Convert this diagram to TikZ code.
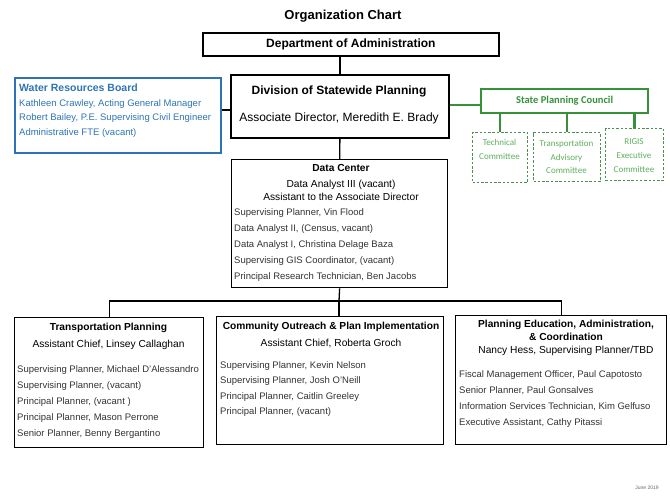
\documentclass[tikz,border=0pt]{standalone}
\usepackage{fontspec}
\setmainfont{Liberation Sans}
\newfontfamily\calfont{Carlito}
\usetikzlibrary{positioning}
\definecolor{wrblue}{HTML}{2E74B5}
\definecolor{spcgreen}{HTML}{35913A}
\definecolor{comgreen}{HTML}{5DAF5D}
\definecolor{dashgreen}{HTML}{4E8E52}
\tikzset{
  unit/.style={
    rectangle,
    draw=black,
    line width=1.3pt,
    anchor=north west,
    inner sep=0pt
  },
  topunit/.style={unit, line width=1.8pt},
  wrbox/.style={unit, draw=wrblue, line width=1.8pt},
  spcbox/.style={unit, draw=spcgreen, line width=2.2pt},
  combox/.style={unit, draw=dashgreen, dash pattern=on 2.5pt off 1.8pt, line width=1pt},
  head/.style={anchor=base, inner sep=0pt, font=\fontsize{10.2}{12}\selectfont},
  bighead/.style={anchor=base, inner sep=0pt, font=\fontsize{12}{14}\selectfont},
  staff/.style={anchor=base west, inner sep=0pt, text=black!80, font=\fontsize{9.5}{11}\selectfont},
  comtext/.style={anchor=base, inner sep=0pt, text=comgreen, font=\calfont\fontsize{9}{11}\selectfont},
  link/.style={draw=black, line width=1.3pt},
  greenlink/.style={draw=spcgreen, line width=2.4pt}
}
\begin{document}
\begin{tikzpicture}[x=1pt, y=-1pt]
\useasboundingbox (0,0) rectangle (670,496);

\node[anchor=base, font=\bfseries\fontsize{13}{15}\selectfont] (title) at (343,19.5) {Organization Chart};

% top of the chart
\node[topunit, minimum width=296pt, minimum height=23pt, font=\bfseries\fontsize{12}{14}\selectfont] (dept) at (202,32) {Department of Administration};

\node[topunit, minimum width=218pt, minimum height=63pt] (div) at (230,74) {};
\node[bighead, font=\bfseries\fontsize{12}{14}\selectfont] (divname) at (339,94) {Division of Statewide Planning};
\node[bighead] (divhead) at (339,121) {Associate Director, Meredith E. Brady};

% water resources board
\node[wrbox, minimum width=206pt, minimum height=75pt] (water) at (14,77) {};
\node[staff, text=wrblue, font=\bfseries\fontsize{10.5}{12}\selectfont] (watername) at (19,91) {Water Resources Board};
\foreach \line [count=\i from 0] in {{Kathleen Crawley, Acting General Manager},{Robert Bailey, P.E. Supervising Civil Engineer},{Administrative FTE (vacant)}}
  \node[staff, text=wrblue] at (19,106+14.5*\i) {\line};

% state planning council
\node[spcbox, minimum width=167pt, minimum height=24pt, text=spcgreen, font=\calfont\bfseries\fontsize{10.5}{12}\selectfont] (spc) at (480,88) {State Planning Council};

\node[combox, minimum width=55pt, minimum height=50pt] (tech) at (472,132) {};
\node[comtext] at (499.5,145) {Technical};
\node[comtext] at (499.5,159) {Committee};

\node[combox, minimum width=67pt, minimum height=49pt] (tac) at (533,132) {};
\node[comtext] at (566.5,146) {Transportation};
\node[comtext] at (566.5,160) {Advisory};
\node[comtext] at (566.5,173) {Committee};

\node[combox, minimum width=58pt, minimum height=52pt] (rigis) at (605,128) {};
\node[comtext] at (634,144) {RIGIS};
\node[comtext] at (634,158) {Executive};
\node[comtext] at (634,172) {Committee};

% data center
\node[unit, minimum width=216pt, minimum height=128pt] (dc) at (231,159) {};
\node[head, font=\bfseries\fontsize{10.2}{12}\selectfont] (dcname) at (341,171.5) {Data Center};
\node[head] at (341,187.5) {Data Analyst III (vacant)};
\node[head] at (341,200.5) {Assistant to the Associate Director};
\foreach \line [count=\i from 0] in {{Supervising Planner, Vin Flood},{Data Analyst II, (Census, vacant)},{Data Analyst I, Christina Delage Baza},{Supervising GIS Coordinator, (vacant)},{Principal Research Technician, Ben Jacobs}}
  \node[staff] at (234,215+16*\i) {\line};

% sections
\node[unit, minimum width=189pt, minimum height=130pt] (trans) at (14,317) {};
\node[head, font=\bfseries\fontsize{10.2}{12}\selectfont] (transname) at (108.5,330.5) {Transportation Planning};
\node[head] at (108.5,347.5) {Assistant Chief, Linsey Callaghan};
\foreach \line [count=\i from 0] in {{Supervising Planner, Michael D'Alessandro},{Supervising Planner, (vacant)},{Principal Planner, (vacant )},{Principal Planner, Mason Perrone},{Senior Planner, Benny Bergantino}}
  \node[staff] at (17,372+16*\i) {\line};

\node[unit, minimum width=227pt, minimum height=128pt] (comm) at (216,316) {};
\node[head, font=\bfseries\fontsize{10.2}{12}\selectfont] (commname) at (331,329.5) {Community Outreach \& Plan Implementation};
\node[head] at (331,346.5) {Assistant Chief, Roberta Groch};
\foreach \line [count=\i from 0] in {{Supervising Planner, Kevin Nelson},{Supervising Planner, Josh O'Neill},{Principal Planner, Caitlin Greeley},{Principal Planner, (vacant)}}
  \node[staff] at (220,368+15.5*\i) {\line};

\node[unit, minimum width=211pt, minimum height=129pt] (ped) at (455,315) {};
\node[head, font=\bfseries\fontsize{10.2}{12}\selectfont] (pedname) at (566,327.5) {Planning Education, Administration,};
\node[head, font=\bfseries\fontsize{10.2}{12}\selectfont] at (566,340.5) {\& Coordination};
\node[head] at (566,353.5) {Nancy Hess, Supervising Planner/TBD};
\foreach \line [count=\i from 0] in {{Fiscal Management Officer, Paul Capotosto},{Senior Planner, Paul Gonsalves},{Information Services Technician, Kim Gelfuso},{Executive Assistant, Cathy Pitassi}}
  \node[staff] at (459,377+16*\i) {\line};

\node[anchor=base, inner sep=0pt, text=black!60, font=\fontsize{5}{6}\selectfont] (date) at (647,489) {June 2019};

% connectors
\coordinate (bus) at (339,301);
\draw[link] (div.north |- dept.south) -- (div.north);
\draw[link] (div.south) -- (dc.north);
\draw[link] ([yshift=5.5pt]water.east) -- ([yshift=5.5pt]water.east -| div.west);
\draw[greenlink] ([yshift=-4pt]spc.west) -- ([yshift=-4pt]spc.west -| div.east);
\draw[greenlink] (tech.north |- spc.south) -- (tech.north);
\draw[greenlink] (tac.north |- spc.south) -- (tac.north);
\draw[greenlink] (rigis.north |- spc.south) -- (rigis.north);
\draw[link] (dc.south) -- (bus);
\draw[link] (trans.north) |- (bus) -| (ped.north);
\draw[link] (bus) -- (bus |- comm.north);

\end{tikzpicture}
\end{document}
